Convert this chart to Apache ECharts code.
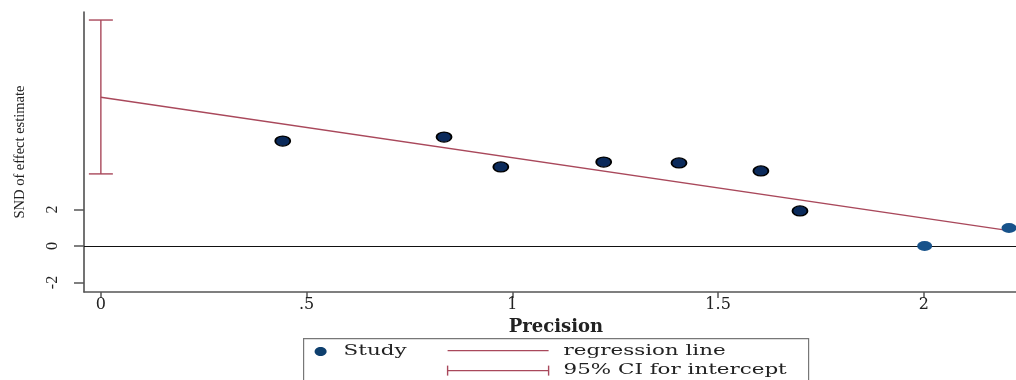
<!DOCTYPE html>
<html>
<head>
<meta charset="utf-8">
<script src="https://cdn.jsdelivr.net/npm/echarts@6/dist/echarts.min.js"></script>
<style>
  html, body { margin: 0; padding: 0; background: #fff; }
  #chart { width: 1016px; height: 380px; }
</style>
</head>
<body>
<div id="chart"></div>
<script>
// Galbraith / Egger-style plot: standard normal deviate vs precision
const studyPrecision = [0.442, 0.834, 0.972, 1.222, 1.405, 1.604, 1.699, 2.002, 2.207];
const studySND       = [5.75, 5.97, 4.33, 4.60, 4.55, 4.11, 1.92, 0.00, 0.99];

// Fitted regression line, read at both ends of the precision range
const regPrecision = [0, 2.207];
const regSND       = [8.15, 0.84];

// 95% confidence interval for the intercept (drawn at precision = 0)
const ciLow  = 3.95;
const ciHigh = 12.38;

// Axis ticks
const xTickValues = [0, 0.5, 1, 1.5, 2];
const xTickLabels = ['0', '.5', '1', '1.5', '2'];
const yTickValues = [-2, 0, 2];
const yTickLabels = ['-2', '0', '2'];

const xTitle = 'Precision';
const yTitle = 'SND of effect estimate';
const legendLabels = ['Study', 'regression line', '95% CI for intercept'];

const RED = '#a9485b';
const NAVY = '#0b2a5b';
const AXIS = '#555';

const chart = echarts.init(document.getElementById('chart'), null, { renderer: 'canvas' });

const scatterData = studyPrecision.map((x, i) => {
  const item = { value: [x, studySND[i]] };
  // the two highest-precision studies are drawn lighter, without outline
  if (x >= 2) item.itemStyle = { color: '#17528a', borderWidth: 0 };
  return item;
});

const legendText = (x, y, text) => ({
  type: 'text', x: x, y: y, scaleX: 1.53,
  style: { x: 0, y: 0, text: text, fill: '#222', font: '14px "DejaVu Serif"', verticalAlign: 'middle' }
});

const option = {
  animation: false,
  backgroundColor: '#fff',
  grid: { left: 84, top: 12, width: 932, height: 280, containLabel: false },
  xAxis: {
    type: 'value', min: -0.041, max: 2.224,
    axisLine: { show: true, onZero: false, lineStyle: { color: AXIS, width: 1.5 } },
    axisTick: { show: true, customValues: xTickValues, length: 6, lineStyle: { color: AXIS, width: 1.5 } },
    axisLabel: {
      customValues: xTickValues, margin: 5,
      formatter: v => xTickLabels[xTickValues.indexOf(v)] ?? '',
      fontFamily: 'DejaVu Serif', fontSize: 16, color: '#222'
    },
    splitLine: { show: false },
    name: xTitle, nameLocation: 'middle', nameGap: 20,
    nameTextStyle: { fontFamily: 'DejaVu Serif', fontSize: 18, fontWeight: 'bold', color: '#222', padding: [0, 0, 0, 12] }
  },
  yAxis: {
    type: 'value', min: -2.52, max: 12.82,
    axisLine: { show: true, onZero: false, lineStyle: { color: '#444', width: 1.5 } },
    axisTick: { show: true, customValues: yTickValues, length: 10, lineStyle: { color: AXIS, width: 1.5 } },
    axisLabel: {
      customValues: yTickValues, margin: 23, rotate: 90,
      formatter: v => yTickLabels[yTickValues.indexOf(v)] ?? '',
      fontFamily: 'Liberation Serif', fontSize: 16, color: '#222'
    },
    splitLine: { show: false },
    name: yTitle, nameLocation: 'middle', nameGap: 56,
    nameTextStyle: { fontFamily: 'Liberation Serif', fontSize: 14.5, color: '#222' }
  },
  series: [
    {
      name: 'regression line', type: 'line',
      data: regPrecision.map((x, i) => [x, regSND[i]]),
      symbol: 'none', lineStyle: { color: RED, width: 1.3 }, z: 3,
      markLine: {
        silent: true, symbol: 'none', label: { show: false },
        lineStyle: { color: '#111', width: 1.2, type: 'solid' },
        data: [{ yAxis: 0 }]
      }
    },
    {
      name: '95% CI for intercept', type: 'custom',
      data: [[0, ciLow, ciHigh]],
      encode: { x: 0, y: [1, 2] },
      z: 4,
      renderItem: (params, api) => {
        const lo = api.coord([api.value(0), api.value(1)]);
        const hi = api.coord([api.value(0), api.value(2)]);
        const half = 12;
        const st = { stroke: RED, lineWidth: 1.4 };
        return {
          type: 'group',
          children: [
            { type: 'line', shape: { x1: lo[0], y1: lo[1], x2: hi[0], y2: hi[1] }, style: st },
            { type: 'line', shape: { x1: hi[0] - half, y1: hi[1], x2: hi[0] + half, y2: hi[1] }, style: st },
            { type: 'line', shape: { x1: lo[0] - half, y1: lo[1], x2: lo[0] + half, y2: lo[1] }, style: st }
          ]
        };
      }
    },
    {
      name: 'Study', type: 'scatter',
      data: scatterData,
      symbol: 'circle', symbolSize: [15, 10],
      itemStyle: { color: NAVY, borderColor: '#000', borderWidth: 1.5, opacity: 1 },
      z: 5
    }
  ],
  graphic: [
    {
      type: 'group', left: 303, top: 338,
      children: [
        { type: 'rect', shape: { x: 0, y: 0, width: 505, height: 60 }, style: { fill: '#fff', stroke: '#777', lineWidth: 1.2 } },
        { type: 'ellipse', shape: { cx: 17, cy: 13, rx: 6, ry: 4.5 }, style: { fill: '#0e3f6e' } },
        legendText(40, 13, legendLabels[0]),
        { type: 'line', shape: { x1: 144, y1: 12, x2: 245, y2: 12 }, style: { stroke: RED, lineWidth: 1.3 } },
        { type: 'line', shape: { x1: 144, y1: 32, x2: 245, y2: 32 }, style: { stroke: RED, lineWidth: 1.4 } },
        { type: 'line', shape: { x1: 144, y1: 27, x2: 144, y2: 37 }, style: { stroke: RED, lineWidth: 1.4 } },
        { type: 'line', shape: { x1: 245, y1: 27, x2: 245, y2: 37 }, style: { stroke: RED, lineWidth: 1.4 } },
        legendText(260, 13, legendLabels[1]),
        legendText(260, 32, legendLabels[2])
      ]
    }
  ]
};

chart.setOption(option);
</script>
</body>
</html>
